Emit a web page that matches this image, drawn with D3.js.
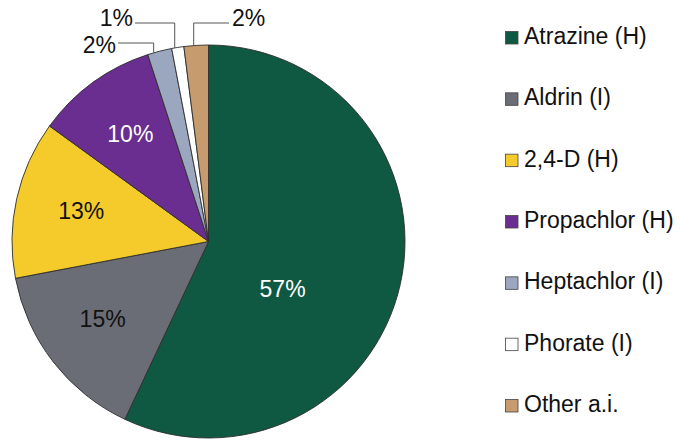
<!DOCTYPE html>
<html>
<head>
<meta charset="utf-8">
<script src="https://cdn.jsdelivr.net/npm/d3@7/dist/d3.min.js"></script>
<style>
  html, body { margin: 0; padding: 0; background: #fff; }
  svg { display: block; font-family: "Liberation Sans", Arial, Helvetica, sans-serif; }
</style>
</head>
<body>
<svg id="chart" width="680" height="440"></svg>
<script>
// Share of pesticide active ingredients (H = herbicide, I = insecticide)
const categories = ["Atrazine (H)", "Aldrin (I)", "2,4-D (H)", "Propachlor (H)", "Heptachlor (I)", "Phorate (I)", "Other a.i."];
const shares = [57, 15, 13, 10, 2, 1, 2];
const colors = ["#0f5842", "#6a6d76", "#f4cb2b", "#6a2d90", "#9ba6bf", "#ffffff", "#c69b6d"];
const labelText = ["57%", "15%", "13%", "10%", "2%", "1%", "2%"];

const svg = d3.select("#chart");
const cx = 208.5, cy = 241.5, radius = 196.5;
const fontSize = 23;

const pie = d3.pie().sort(null).value(d => d)(shares);
const arc = d3.arc().innerRadius(0).outerRadius(radius);

const g = svg.append("g").attr("transform", `translate(${cx},${cy})`);

g.selectAll("path.slice")
  .data(pie)
  .join("path")
  .attr("class", "slice")
  .attr("d", arc)
  .attr("fill", (d, i) => colors[i])
  .attr("stroke", "#2e2e2e")
  .attr("stroke-width", 0.9)
  .attr("stroke-linejoin", "round");

// Point on a circle of radius r at angle a (clockwise from 12 o'clock)
const polar = (a, r) => [r * Math.sin(a), -r * Math.cos(a)];

// Inside labels for the large slices
const inside = [
  { i: 0, r: 88, shift: 0.35, color: "#fff" },
  { i: 1, r: 131, shift: 0.03, color: "#111" },
  { i: 2, r: 131, shift: 0.02, color: "#111" },
  { i: 3, r: 133, shift: 0, color: "#fff" }
];
inside.forEach(o => {
  const d = pie[o.i];
  const a = (d.startAngle + d.endAngle) / 2 + o.shift;
  const [x, y] = polar(a, o.r);
  g.append("text")
    .attr("x", x).attr("y", y)
    .attr("dy", "0.36em")
    .attr("text-anchor", "middle")
    .attr("font-size", fontSize)
    .attr("fill", o.color)
    .text(labelText[o.i]);
});

// Outside labels with elbow leader lines for the thin slices
const outside = [
  { i: 4, frac: 0.25, lineY: 43, endX: 118, side: "left" },
  { i: 5, frac: 0.25, lineY: 23, endX: 135, side: "left" },
  { i: 6, frac: 0.4, lineY: 23, endX: 229, side: "right" }
];
outside.forEach(o => {
  const d = pie[o.i];
  const a = d.startAngle + o.frac * (d.endAngle - d.startAngle);
  const [px, py] = polar(a, radius);
  const x = cx + px, y = cy + py;
  svg.append("polyline")
    .attr("points", `${x},${y} ${x},${o.lineY} ${o.endX},${o.lineY}`)
    .attr("fill", "none")
    .attr("stroke", "#555")
    .attr("stroke-width", 1);
  const left = o.side === "left";
  svg.append("text")
    .attr("x", left ? o.endX - 2 : o.endX + 3)
    .attr("y", o.lineY + (o.lineY < 30 ? 2.5 : 9.5))
    .attr("text-anchor", left ? "end" : "start")
    .attr("font-size", fontSize)
    .attr("fill", "#111")
    .text(labelText[o.i]);
});

// Legend
const legendY = d3.scalePoint().domain(categories).range([44, 412]);
const legend = svg.append("g");
const rows = legend.selectAll("g.row")
  .data(categories)
  .join("g")
  .attr("class", "row")
  .attr("transform", d => `translate(505,${legendY(d)})`);
rows.append("rect")
  .attr("x", 0.5).attr("y", -12.5)
  .attr("width", 12.5).attr("height", 12.5)
  .attr("fill", (d, i) => colors[i])
  .attr("stroke", "#444")
  .attr("stroke-width", 0.8);
rows.append("text")
  .attr("x", 19).attr("y", 0)
  .attr("font-size", fontSize)
  .attr("fill", "#111")
  .text(d => d);
</script>
</body>
</html>
